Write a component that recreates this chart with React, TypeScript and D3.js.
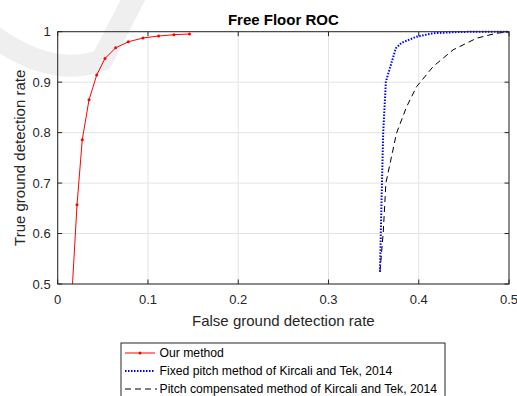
import React from "react";
import * as d3 from "d3";

// ROC curves
const ourX = [0.0148, 0.0214, 0.0272, 0.0347, 0.0432, 0.0524, 0.0642, 0.0782, 0.0945, 0.1118, 0.1288, 0.146];
const ourY = [0.45, 0.657, 0.786, 0.865, 0.914, 0.947, 0.968, 0.98, 0.9875, 0.9915, 0.994, 0.9955];

const fixedX = [0.357, 0.3588, 0.3606, 0.3636, 0.3746, 0.381, 0.3975, 0.416, 0.4455, 0.47, 0.5];
const fixedY = [0.524, 0.666, 0.799, 0.901, 0.967, 0.978, 0.99, 0.997, 0.9995, 1.0, 1.0];

const compX = [0.357, 0.3606, 0.3636, 0.3754, 0.3865, 0.3976, 0.416, 0.438, 0.464, 0.4862, 0.5];
const compY = [0.524, 0.6, 0.7, 0.799, 0.851, 0.891, 0.931, 0.964, 0.987, 0.997, 0.9995];

const xTicks = [0, 0.1, 0.2, 0.3, 0.4, 0.5];
const yTicks = [0.5, 0.6, 0.7, 0.8, 0.9, 1];

const legendLabels = [
  "Our method",
  "Fixed pitch method of Kircali and Tek, 2014",
  "Pitch compensated method of Kircali and Tek, 2014",
];

const W = 517;
const H = 396;
const margin = { left: 57.7, right: 8, top: 31.7, bottom: 112 };
const font = "'Liberation Sans', Arial, sans-serif";
const axisColor = "#262626";

export default function App() {
  const x = d3.scaleLinear().domain([0, 0.5]).range([margin.left, W - margin.right]);
  const y = d3.scaleLinear().domain([0.5, 1]).range([H - margin.bottom, margin.top]);
  const line = d3
    .line<[number, number]>()
    .x((d) => x(d[0]))
    .y((d) => y(d[1]));

  const ours = ourX.map((v, i) => [v, ourY[i]] as [number, number]);
  const fixed = fixedX.map((v, i) => [v, fixedY[i]] as [number, number]);
  const comp = compX.map((v, i) => [v, compY[i]] as [number, number]);

  const [x0, x1] = x.range();
  const [y0, y1] = y.range();
  const tk = 4.5;

  const legX = 121;
  const legY = 343;
  const legRow = 18;

  return (
    <svg width={W} height={H} style={{ position: "absolute", left: 0, top: 0, background: "#fff" }}>
      <defs>
        <clipPath id="plotclip">
          <rect x={x0} y={y1 - 2} width={x1 - x0} height={y0 - y1 + 2} />
        </clipPath>
      </defs>
      {/* faint watermark swoosh */}
      <path d="M -15 30 Q 50 80 102 60 L 138 -10" fill="none" stroke="#efefef" strokeWidth={22} />

      {/* grid */}
      {xTicks.map((t) => (
        <line key={"gx" + t} x1={x(t)} x2={x(t)} y1={y0} y2={y1} stroke="#e3e3e3" strokeWidth={1} />
      ))}
      {yTicks.map((t) => (
        <line key={"gy" + t} x1={x0} x2={x1} y1={y(t)} y2={y(t)} stroke="#e3e3e3" strokeWidth={1} />
      ))}

      {/* ticks */}
      {xTicks.map((t) => (
        <g key={"tx" + t} stroke={axisColor} strokeWidth={1}>
          <line x1={x(t)} x2={x(t)} y1={y0} y2={y0 - tk} />
          <line x1={x(t)} x2={x(t)} y1={y1} y2={y1 + tk} />
        </g>
      ))}
      {yTicks.map((t) => (
        <g key={"ty" + t} stroke={axisColor} strokeWidth={1}>
          <line x1={x0} x2={x0 + tk} y1={y(t)} y2={y(t)} />
          <line x1={x1} x2={x1 - tk} y1={y(t)} y2={y(t)} />
        </g>
      ))}

      {/* curves */}
      <g clipPath="url(#plotclip)">
        <path d={line(comp) ?? ""} fill="none" stroke="#000" strokeWidth={1} strokeDasharray="6 4" />
        <path d={line(fixed) ?? ""} fill="none" stroke="#0000ff" strokeWidth={2} strokeDasharray="1.5 1.5" />
        <path d={line(ours) ?? ""} fill="none" stroke="#ff0000" strokeWidth={1} />
        {ours.map((d, i) => (
          <circle key={i} cx={x(d[0])} cy={y(d[1])} r={1.5} fill="#ff0000" />
        ))}
      </g>

      {/* box */}
      <rect x={x0} y={y1} width={x1 - x0} height={y0 - y1} fill="none" stroke={axisColor} strokeWidth={1} />

      {/* tick labels */}
      {xTicks.map((t) => (
        <text key={"lx" + t} x={x(t)} y={y0 + 20} textAnchor="middle" fontFamily={font} fontSize={13} fill={axisColor}>
          {t === 0 ? "0" : t.toString()}
        </text>
      ))}
      {yTicks.map((t) => (
        <text key={"ly" + t} x={x0 - 7} y={y(t) + 4.5} textAnchor="end" fontFamily={font} fontSize={13} fill={axisColor}>
          {t.toString()}
        </text>
      ))}

      {/* title and axis labels */}
      <text x={(x0 + x1) / 2} y={25} textAnchor="middle" fontFamily={font} fontSize={15} fontWeight="bold" fill="#000">
        Free Floor ROC
      </text>
      <text x={(x0 + x1) / 2} y={326} textAnchor="middle" fontFamily={font} fontSize={15} fill={axisColor}>
        False ground detection rate
      </text>
      <text
        transform={`translate(25, ${(y0 + y1) / 2}) rotate(-90)`}
        textAnchor="middle"
        fontFamily={font}
        fontSize={15}
        fill={axisColor}
      >
        True ground detection rate
      </text>

      {/* legend */}
      <rect x={legX} y={legY} width={324} height={70} fill="#fff" stroke={axisColor} strokeWidth={1} />
      {legendLabels.map((lab, i) => {
        const cy = legY + 10 + i * legRow;
        return (
          <g key={lab}>
            {i === 0 && (
              <>
                <line x1={125} x2={155} y1={cy} y2={cy} stroke="#ff0000" strokeWidth={1} />
                <circle cx={140} cy={cy} r={1.5} fill="#ff0000" />
              </>
            )}
            {i === 1 && (
              <line x1={125} x2={155} y1={cy} y2={cy} stroke="#0000ff" strokeWidth={2} strokeDasharray="1.5 1.5" />
            )}
            {i === 2 && (
              <line x1={125} x2={157} y1={cy} y2={cy} stroke="#000" strokeWidth={1} strokeDasharray="6 4" />
            )}
            <text x={159.5} y={cy + 4.3} fontFamily={font} fontSize={12.2} fill="#000">
              {lab}
            </text>
          </g>
        );
      })}
    </svg>
  );
}
